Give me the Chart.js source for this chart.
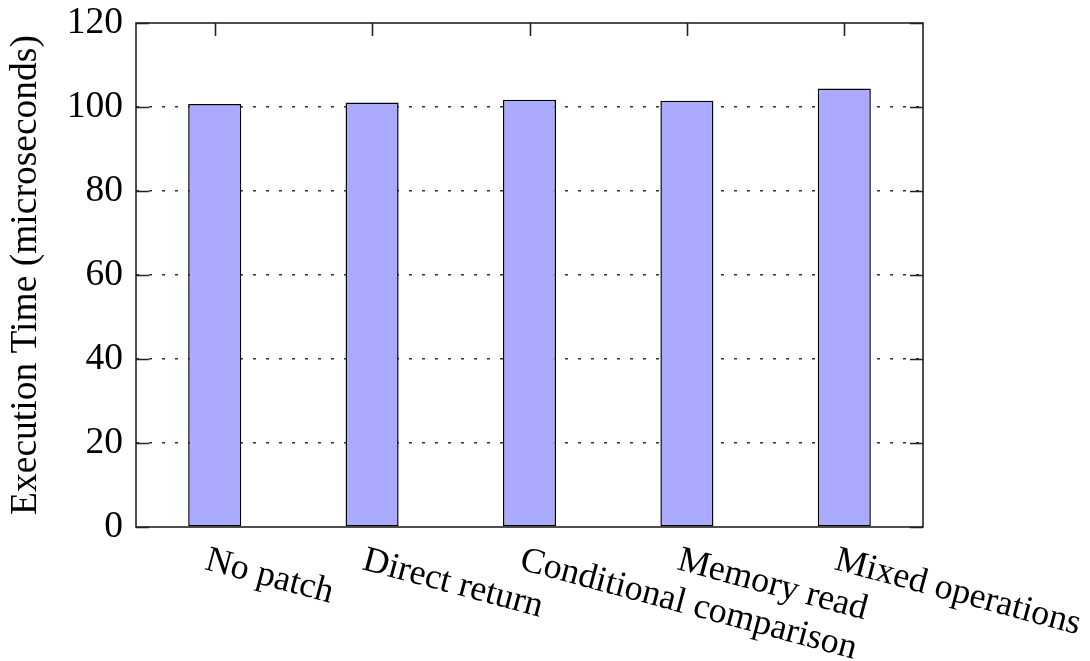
<!DOCTYPE html>
<html>
<head>
<meta charset="utf-8">
<script src="https://cdn.jsdelivr.net/npm/chart.js@4.4.1/dist/chart.umd.min.js"></script>
<style>
  html, body { margin: 0; padding: 0; background: #ffffff; }
  #wrap { width: 1090px; height: 661px; }
</style>
</head>
<body>
<div id="wrap"><canvas id="chart" width="1090" height="661"></canvas></div>
<script>
// Patch variants and their measured execution time
const categories = ['No patch', 'Direct return', 'Conditional comparison', 'Memory read', 'Mixed operations'];
const execTimes = [100.7, 101.1, 101.7, 101.5, 104.4];
const yTicks = [0, 20, 40, 60, 80, 100, 120];

const SERIF = '"Liberation Serif", "Times New Roman", serif';
const AXIS_FONT = 37.5;
const LABEL_FONT = 36;
const TICK_LEN = 13;
const LABEL_ANGLE = 15 * Math.PI / 180;

// Frame, inward tick marks and slanted category labels
const framePlugin = {
  id: 'frame',
  afterDraw(chart) {
    const { ctx, chartArea: a, scales } = chart;
    const x = scales.x, y = scales.y;
    ctx.save();
    ctx.strokeStyle = '#222';
    ctx.lineWidth = 1.6;
    ctx.setLineDash([]);
    ctx.beginPath();
    yTicks.forEach(v => {
      const py = Math.round(y.getPixelForValue(v)) + 0.5;
      ctx.moveTo(a.left, py); ctx.lineTo(a.left + TICK_LEN, py);
      ctx.moveTo(a.right, py); ctx.lineTo(a.right - TICK_LEN, py);
    });
    categories.forEach((c, i) => {
      const px = Math.round(x.getPixelForValue(i)) + 0.5;
      ctx.moveTo(px, a.top); ctx.lineTo(px, a.top + TICK_LEN);
    });
    ctx.stroke();
    ctx.strokeRect(a.left, a.top, a.right - a.left, a.bottom - a.top);

    ctx.fillStyle = '#000';
    ctx.font = LABEL_FONT + 'px ' + SERIF;
    ctx.textAlign = 'left';
    ctx.textBaseline = 'alphabetic';
    categories.forEach((c, i) => {
      const px = x.getPixelForValue(i);
      ctx.save();
      ctx.translate(px - 11, a.bottom + 42);
      ctx.rotate(LABEL_ANGLE);
      ctx.fillText(c, 0, 0);
      ctx.restore();
    });
    ctx.restore();
  }
};

new Chart(document.getElementById('chart'), {
  type: 'bar',
  data: {
    labels: categories,
    datasets: [{
      data: execTimes,
      backgroundColor: '#aaaaff',
      borderColor: '#000000',
      borderWidth: 1.5,
      borderSkipped: false,
      barPercentage: 0.337,
      categoryPercentage: 1.0
    }]
  },
  options: {
    responsive: false,
    animation: false,
    devicePixelRatio: 1,
    layout: { padding: { top: 23, right: 167, left: 0, bottom: 0 } },
    plugins: {
      legend: { display: false },
      tooltip: { enabled: false }
    },
    scales: {
      x: {
        type: 'category',
        offset: true,
        grid: { display: false, drawTicks: false },
        border: { display: false },
        ticks: { display: false },
        afterFit(scale) { scale.height = 134; }
      },
      y: {
        min: 0,
        max: 120,
        afterBuildTicks(scale) { scale.ticks = yTicks.map(v => ({ value: v })); },
        grid: {
          drawTicks: false,
          color: ctx => (ctx.tick && (ctx.tick.value === 0 || ctx.tick.value === 120)) ? 'rgba(0,0,0,0)' : '#333',
          lineWidth: 1.6
        },
        border: { display: false, dash: [3, 10] },
        ticks: {
          padding: 13,
          color: '#000',
          font: { family: SERIF, size: AXIS_FONT, lineHeight: 0.1 }
        },
        title: {
          display: true,
          text: 'Execution Time (microseconds)',
          color: '#000',
          font: { family: SERIF, size: AXIS_FONT },
          padding: { top: 4, bottom: 0 }
        },
        afterFit(scale) { scale.width = 136; }
      }
    }
  },
  plugins: [framePlugin]
});
</script>
</body>
</html>
